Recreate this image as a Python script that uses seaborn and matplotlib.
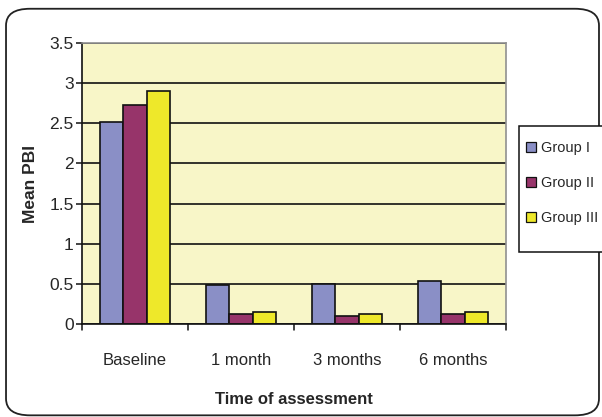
import matplotlib
matplotlib.use("Agg")
import matplotlib.pyplot as plt
from matplotlib.patches import FancyBboxPatch, Rectangle
import seaborn as sns
import pandas as pd

# Mean PBI per assessment time and study group
times = ["Baseline", "1 month", "3 months", "6 months"]
groups = ["Group I", "Group II", "Group III"]
group_i = [2.52, 0.48, 0.50, 0.54]
group_ii = [2.73, 0.13, 0.10, 0.13]
group_iii = [2.90, 0.15, 0.13, 0.15]
y_ticks = [0, 0.5, 1, 1.5, 2, 2.5, 3, 3.5]
y_tick_labels = ["0", "0.5", "1", "1.5", "2", "2.5", "3", "3.5"]

colors = ["#8A8FC6", "#97346A", "#EEE82A"]

rows = []
for g, vals in zip(groups, [group_i, group_ii, group_iii]):
    for t, v in zip(times, vals):
        rows.append({"Time": t, "Group": g, "PBI": v})
df = pd.DataFrame(rows)

sns.set_theme(style="white")
plt.rcParams["font.family"] = ["Liberation Sans", "DejaVu Sans"]

W, H = 602, 417
fig = plt.figure(figsize=(6.02, 4.17), dpi=100)
ax = fig.add_axes([82 / W, 1 - 324 / H, 424 / W, 281 / H])

# Rounded outer frame
frame = FancyBboxPatch((0.010, 0.004), 0.985, 0.975,
                       boxstyle="round,pad=0,rounding_size=0.04",
                       transform=fig.transFigure, facecolor="white",
                       edgecolor="#222222", linewidth=1.3, zorder=-10)
fig.patches.append(frame)

ax.set_facecolor("#F8F6C8")
ax.set_axisbelow(True)

sns.barplot(data=df, x="Time", y="PBI", hue="Group", order=times,
            hue_order=groups, palette=colors, width=0.665, ax=ax,
            edgecolor="#111111", linewidth=1.2, saturation=1)

ax.set_ylim(0, 3.5)
ax.set_yticks(y_ticks)
ax.set_yticklabels(y_tick_labels)
ax.yaxis.grid(True, color="#111111", linewidth=1.2)
ax.xaxis.grid(False)

# Category labels, with separator ticks between the categories
ax.set_xticks(list(range(len(times))))
ax.set_xticklabels(times)
ax.tick_params(axis="x", length=0, pad=21, labelsize=12)
for b in [-0.5, 0.5, 1.5, 2.5, 3.5]:
    ax.plot([b, b], [0, -0.08], color="#111111", lw=1.1, clip_on=False)
ax.set_xlim(-0.5, 3.5)
ax.tick_params(axis="y", direction="out", length=4, width=1.1,
               color="#111111", labelsize=12.5, pad=2, left=True)

for side in ["top", "right"]:
    ax.spines[side].set_color("#909090")
    ax.spines[side].set_linewidth(1.2)
for side in ["left", "bottom"]:
    ax.spines[side].set_color("#111111")
    ax.spines[side].set_linewidth(1.2)

ax.set_xlabel("Time of assessment", fontsize=12, fontweight="bold", labelpad=17)
ax.set_ylabel("Mean PBI", fontsize=12.5, fontweight="bold", labelpad=8)

# Legend box, running off the right edge of the figure (drawn beneath the axes)
legend_box = Rectangle((519 / W, 1 - 252 / H), 95 / W, 126 / H,
                       transform=fig.transFigure, facecolor="white",
                       edgecolor="#111111", linewidth=1.1, clip_on=False,
                       zorder=-5)
fig.patches.append(legend_box)

leg = ax.legend(loc="upper left", bbox_to_anchor=(519 / W, 1 - 134 / H),
                bbox_transform=fig.transFigure,
                frameon=False, fontsize=10.5,
                handlelength=0.68, handleheight=0.68, handletextpad=0.34,
                labelspacing=1.45, borderpad=0.48, borderaxespad=0)
for h in leg.legend_handles:
    h.set_edgecolor("#111111")
    h.set_linewidth(0.9)

fig.savefig("out.png", dpi=100)
